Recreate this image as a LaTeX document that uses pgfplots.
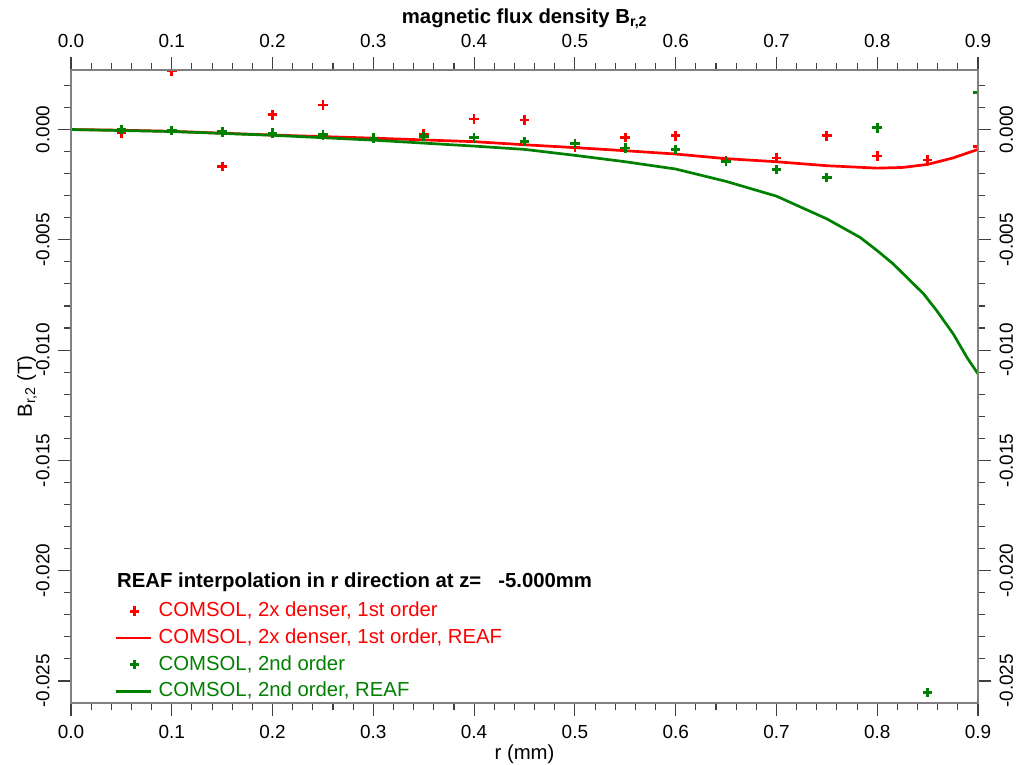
\documentclass[border=0pt]{standalone}
\usepackage{fontspec}
\setmainfont{Liberation Sans}
\usepackage{pgfplots}
\pgfplotsset{compat=1.18}
\usetikzlibrary{calc}
\definecolor{cred}{RGB}{255,0,0}
\definecolor{cgreen}{RGB}{0,128,0}
\definecolor{axgray}{RGB}{128,128,128}
\newcommand{\fs}{\fontsize{20.4}{23}\selectfont}
\newcommand{\ft}{\fontsize{19}{22}\selectfont}
\pgfplotsset{
  markleg/.style={legend image code/.code={\draw[mark repeat=2,mark phase=2,##1] plot coordinates {(0bp,0bp)(18bp,0bp)(36bp,0bp)};}},
  lineleg/.style={legend image code/.code={\draw[##1] (0bp,0bp) -- (35bp,0bp);}},
  common/.style={
    scale only axis, width=907bp, height=633bp,
    xmin=0, xmax=0.9, ymin=-0.026, ymax=0.0027,
    xtick={0,0.1,0.2,0.3,0.4,0.5,0.6,0.7,0.8,0.9},
    minor xtick={0.02,0.04,0.06,0.08,0.12,0.14,0.16,0.18,0.22,0.24,0.26,0.28,0.32,0.34,0.36,0.38,0.42,0.44,0.46,0.48,0.52,0.54,0.56,0.58,0.62,0.64,0.66,0.68,0.72,0.74,0.76,0.78,0.82,0.84,0.86,0.88},
    ytick={-0.025,-0.02,-0.015,-0.01,-0.005,0},
    minor ytick={-0.024,-0.023,-0.022,-0.021,-0.019,-0.018,-0.017,-0.016,-0.014,-0.013,-0.012,-0.011,-0.009,-0.008,-0.007,-0.006,-0.004,-0.003,-0.002,-0.001,0.001,0.002},
    xtick pos=both, ytick pos=both,
    tick align=outside,
    major tick length=13bp, minor tick length=7bp,
    axis line style={axgray, line width=1.3bp},
    every tick/.style={black!75, line width=1.1bp},
    scaled ticks=false,
    /pgf/number format/assume math mode=true,
    tick label style={font=\ft},
    xticklabel shift=6bp, yticklabel shift=5bp,
    x tick label style={/pgf/number format/fixed,/pgf/number format/fixed zerofill,/pgf/number format/precision=1},
    y tick label style={/pgf/number format/fixed,/pgf/number format/fixed zerofill,/pgf/number format/precision=3},
  }
}
\begin{document}
\begin{tikzpicture}
\begin{axis}[common,
  xticklabel pos=lower, yticklabel pos=left,
  yticklabel style={rotate=90, anchor=south},
  every axis x label/.style={at={(rel axis cs:0.5,0)}, yshift=-51bp, anchor=center, font=\fs},
  every axis y label/.style={at={(rel axis cs:0,0.5)}, xshift=-44bp, rotate=90, anchor=center, font=\fs},
  xlabel={r (mm)},
  ylabel={B\textsubscript{r,2} (T)},
  clip marker paths=true,
  legend style={draw=none, fill=none, inner sep=0pt, outer sep=0pt,
    at={(rel axis cs:0.0485,0.160)}, anchor=north west,
    font=\fs, row sep=7.7bp, column sep=6bp,
    nodes={inner sep=0pt, text height=15bp, text depth=4bp}},
  legend cell align=left,
]
\coordinate (SW) at (rel axis cs:0,0);
\coordinate (NE) at (rel axis cs:1,1);

\addplot[only marks, mark=+, mark size=4.8bp, cred, line width=2.7bp, markleg]
  coordinates {
(0,0) (0.05,-0.00016) (0.1,0.00265) (0.15,-0.00167) (0.2,0.00067) (0.25,0.00111)
(0.3,-0.0004) (0.35,-0.0002) (0.4,0.00048) (0.45,0.00043) (0.5,-0.00081)
(0.55,-0.00036) (0.6,-0.00028) (0.65,-0.0014) (0.7,-0.00129) (0.75,-0.00028)
(0.8,-0.0012) (0.85,-0.00138) (0.9,-0.00078)
};
\addlegendentry[text=cred]{COMSOL, 2x denser, 1st order}

\addplot[cred, line width=2.7bp, no marks, lineleg]
  coordinates {
(0,0) (0.05,-0.00003) (0.1,-0.00008) (0.2,-0.00025) (0.3,-0.00039) (0.4,-0.00055)
(0.45,-0.00069) (0.5,-0.00082) (0.55,-0.00096) (0.6,-0.00111) (0.65,-0.00132)
(0.7,-0.00146) (0.75,-0.00164) (0.8,-0.00175) (0.825,-0.00172) (0.85,-0.00158)
(0.875,-0.00129) (0.9,-0.00090)
};
\addlegendentry[text=cred]{COMSOL, 2x denser, 1st order, REAF}

\addplot[only marks, mark=+, mark size=4.8bp, cgreen, line width=2.7bp, markleg]
  coordinates {
(0,0) (0.05,0.0) (0.1,-0.00005) (0.15,-0.0001) (0.2,-0.00016) (0.25,-0.00024)
(0.3,-0.00039) (0.35,-0.00031) (0.4,-0.00037) (0.45,-0.00054) (0.5,-0.00063)
(0.55,-0.00084) (0.6,-0.0009) (0.65,-0.00145) (0.7,-0.00181) (0.75,-0.00217)
(0.8,0.00008) (0.85,-0.02553) (0.9,0.00168)
};
\addlegendentry[text=cgreen]{COMSOL, 2nd order}

\addplot[cgreen, line width=2.7bp, no marks, lineleg]
  coordinates {
(0,0) (0.1,-0.00009) (0.2,-0.00026) (0.3,-0.00048) (0.4,-0.00075) (0.45,-0.0009)
(0.5,-0.00117) (0.55,-0.00146) (0.6,-0.00179) (0.65,-0.00235) (0.7,-0.00302)
(0.75,-0.00405) (0.783,-0.00489) (0.8,-0.00549) (0.816,-0.0061) (0.846,-0.00745)
(0.859,-0.00821) (0.8755,-0.00927) (0.889,-0.01033) (0.9,-0.01108)
};
\addlegendentry[text=cgreen]{COMSOL, 2nd order, REAF}

\node[anchor=base west, inner sep=0pt, font=\fs\bfseries] at (rel axis cs:0.0507,0.182)
  {REAF interpolation in r direction at z=\ \ \ -5.000mm};
\end{axis}
\begin{axis}[common,
  xticklabel pos=upper, yticklabel pos=right,
  yticklabel style={rotate=90, anchor=north},
  title={magnetic flux density B\textsubscript{r,2}},
  every axis title/.style={at={(rel axis cs:0.5,1)}, yshift=51bp, anchor=center, font=\fs\bfseries},
]
\end{axis}
\pgfresetboundingbox
\useasboundingbox ($(SW)+(-71bp,-61bp)$) rectangle ($(NE)+(38bp,70bp)$);
\end{tikzpicture}
\end{document}
